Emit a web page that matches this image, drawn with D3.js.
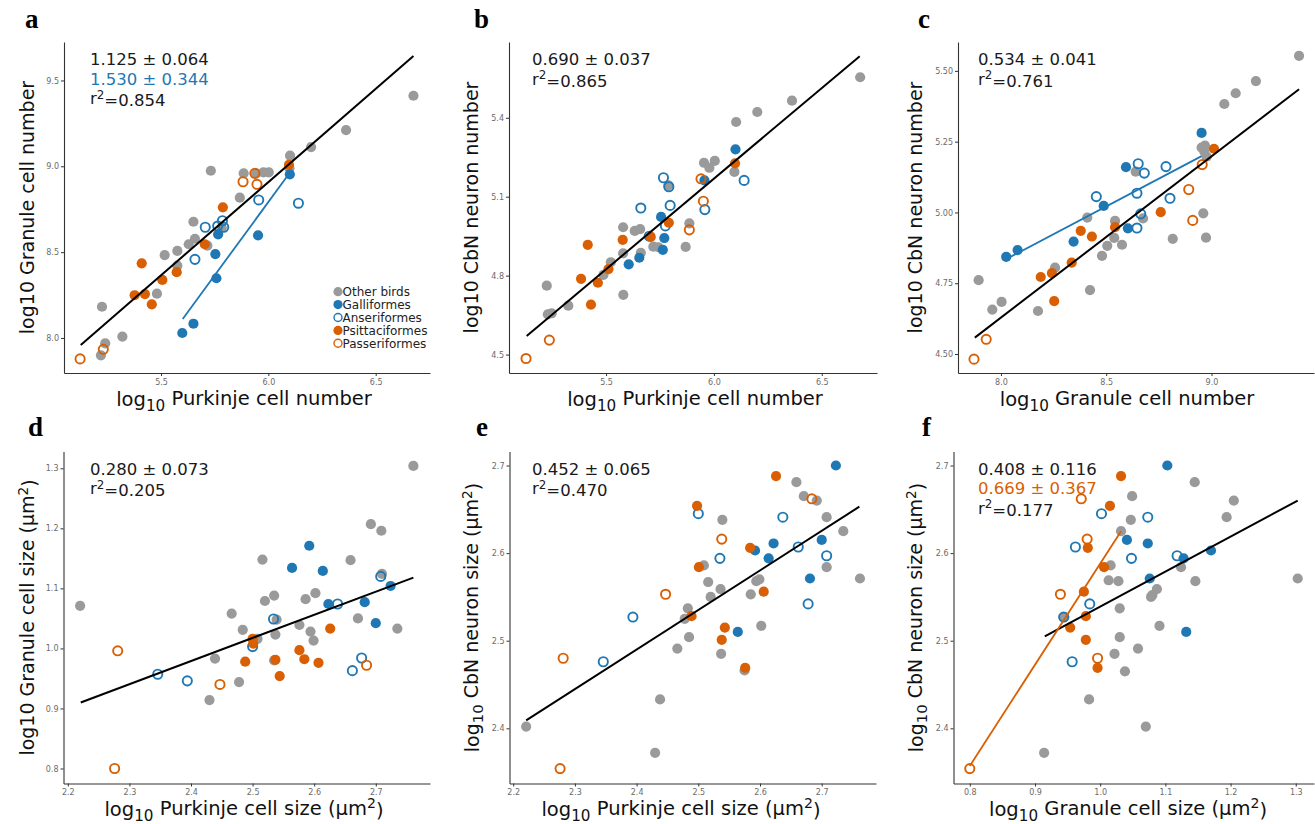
<!DOCTYPE html>
<html><head><meta charset="utf-8">
<script src="https://cdn.jsdelivr.net/npm/d3@7"></script>
<style>
body{margin:0;background:#fff;}
svg{display:block;font-family:"DejaVu Sans",Verdana,sans-serif;}
</style></head>
<body><svg id="chart" width="1315" height="824"></svg>
<script>
// ---------- DATA ----------
const groupNames = ["Other birds","Galliformes","Anseriformes","Psittaciformes","Passeriformes"];

// Panel a: log10 Purkinje cell number vs log10 Granule cell number
const a_other = [[6.676,9.411],[6.362,9.211],[6.199,9.112],[6.101,9.062],[6.098,8.988],[5.732,8.974],[5.885,8.959],[5.943,8.959],[5.977,8.965],[6.002,8.965],[5.867,8.817],[5.651,8.677],[5.658,8.578],[5.629,8.546],[5.716,8.538],[5.783,8.642],[5.576,8.507],[5.517,8.483],[5.576,8.421],[5.481,8.258],[5.225,8.182],[5.320,8.008],[5.240,7.969],[5.220,7.899]];
const a_galli = [[6.100,8.953],[5.766,8.604],[5.753,8.489],[5.952,8.598],[5.758,8.348],[5.651,8.083],[5.599,8.029]];
const a_anser = [[6.140,8.785],[5.955,8.804],[5.706,8.645],[5.764,8.652],[5.786,8.683],[5.792,8.645],[5.658,8.458]];
const a_psitt = [[6.096,9.009],[5.788,8.761],[5.704,8.546],[5.410,8.435],[5.573,8.383],[5.506,8.338],[5.377,8.249],[5.425,8.256],[5.457,8.196]];
const a_passer = [[5.937,8.959],[5.882,8.910],[5.947,8.895],[5.231,7.934],[5.123,7.878]];
const a_fitAll = [[5.126,7.959],[6.676,9.642]];
const a_fitGalli = [[5.601,8.111],[6.098,8.959]];

// Panel b: log10 Purkinje cell number vs log10 CbN neuron number
const b_other = [[6.678,5.554],[6.362,5.465],[6.201,5.422],[6.103,5.384],[5.954,5.229],[6.004,5.236],[5.979,5.210],[6.095,5.194],[5.789,5.143],[5.886,4.999],[5.869,4.909],[5.579,4.984],[5.633,4.970],[5.658,4.977],[5.661,4.887],[5.719,4.910],[5.742,4.908],[5.579,4.885],[5.522,4.851],[5.488,4.803],[5.580,4.727],[5.225,4.762],[5.325,4.686],[5.230,4.653],[5.248,4.657]];
const b_galli = [[6.100,5.280],[5.956,5.162],[5.755,5.023],[5.770,4.943],[5.763,4.898],[5.654,4.868],[5.605,4.843]];
const b_anser = [[6.140,5.162],[5.766,5.172],[5.791,5.138],[5.797,5.067],[5.661,5.057],[5.958,5.051],[5.775,4.989],[5.700,4.950]];
const b_psitt = [[6.098,5.227],[5.791,5.001],[5.707,4.947],[5.577,4.936],[5.415,4.917],[5.511,4.825],[5.462,4.773],[5.384,4.788],[5.430,4.690]];
const b_passer = [[5.940,5.168],[5.951,5.083],[5.886,4.974],[5.237,4.555],[5.129,4.485]];
const b_fitAll = [[5.132,4.571],[6.676,5.634]];

// Panel c: log10 Granule cell number vs log10 CbN neuron number
const c_other = [[9.416,5.553],[9.211,5.464],[9.115,5.421],[9.061,5.383],[8.953,5.229],[8.969,5.236],[8.977,5.197],[8.966,5.215],[8.640,5.144],[8.961,4.997],[8.974,4.911],[8.816,4.907],[8.675,4.979],[8.410,4.982],[8.542,4.970],[8.538,4.910],[8.575,4.886],[8.505,4.882],[8.480,4.847],[8.257,4.805],[8.423,4.726],[8.176,4.652],[7.894,4.761],[8.003,4.684],[7.959,4.657]];
const c_galli = [[8.953,5.281],[8.594,5.160],[8.488,5.023],[8.603,4.944],[8.345,4.897],[8.079,4.867],[8.025,4.843]];
const c_anser = [[8.652,5.172],[8.681,5.139],[8.784,5.162],[8.453,5.056],[8.646,5.068],[8.803,5.050],[8.664,4.995],[8.646,4.945]];
const c_psitt = [[9.012,5.225],[8.759,5.001],[8.542,4.948],[8.379,4.935],[8.432,4.915],[8.336,4.823],[8.189,4.772],[8.242,4.786],[8.253,4.687]];
const c_passer = [[8.956,5.169],[8.892,5.081],[8.911,4.972],[7.930,4.552],[7.872,4.482]];
const c_fitAll = [[7.876,4.558],[9.416,5.435]];
const c_fitGalli = [[8.029,4.837],[8.953,5.199]];

// Panel d: log10 Purkinje cell size vs log10 Granule cell size
const d_other = [[2.761,1.304],[2.692,1.207],[2.709,1.196],[2.516,1.148],[2.659,1.147],[2.710,1.124],[2.535,1.088],[2.602,1.092],[2.520,1.079],[2.586,1.082],[2.466,1.058],[2.671,1.050],[2.539,1.048],[2.576,1.039],[2.484,1.031],[2.594,1.028],[2.735,1.033],[2.537,1.023],[2.508,1.016],[2.599,1.013],[2.439,0.983],[2.535,0.980],[2.478,0.944],[2.430,0.914],[2.220,1.071]];
const d_galli = [[2.592,1.171],[2.564,1.134],[2.614,1.129],[2.623,1.074],[2.682,1.077],[2.724,1.104],[2.700,1.042]];
const d_anser = [[2.708,1.120],[2.638,1.074],[2.534,1.049],[2.500,1.003],[2.346,0.957],[2.394,0.946],[2.662,0.963],[2.677,0.984]];
const d_psitt = [[2.626,1.033],[2.500,1.016],[2.501,1.008],[2.576,0.997],[2.537,0.981],[2.584,0.982],[2.607,0.976],[2.488,0.978],[2.544,0.954]];
const d_passer = [[2.281,0.996],[2.447,0.940],[2.685,0.972],[2.276,0.800]];
const d_fitAll = [[2.221,0.910],[2.761,1.118]];

// Panel e: log10 Purkinje cell size vs log10 CbN neuron size
const e_other = [[2.221,2.402],[2.430,2.372],[2.438,2.433],[2.466,2.491],[2.485,2.504],[2.478,2.525],[2.483,2.537],[2.537,2.485],[2.575,2.466],[2.520,2.550],[2.536,2.559],[2.516,2.567],[2.509,2.586],[2.585,2.553],[2.594,2.568],[2.599,2.570],[2.602,2.517],[2.539,2.638],[2.659,2.681],[2.671,2.665],[2.692,2.660],[2.708,2.641],[2.708,2.584],[2.735,2.625],[2.762,2.571]];
const e_galli = [[2.723,2.700],[2.622,2.611],[2.592,2.603],[2.614,2.594],[2.700,2.615],[2.681,2.571],[2.564,2.510]];
const e_anser = [[2.500,2.645],[2.637,2.641],[2.662,2.607],[2.708,2.597],[2.535,2.594],[2.678,2.542],[2.394,2.527],[2.346,2.476]];
const e_psitt = [[2.626,2.688],[2.498,2.654],[2.584,2.606],[2.501,2.584],[2.606,2.556],[2.489,2.528],[2.543,2.515],[2.538,2.501],[2.576,2.469]];
const e_passer = [[2.684,2.662],[2.538,2.616],[2.447,2.553],[2.281,2.480],[2.276,2.354]];
const e_fitAll = [[2.221,2.409],[2.761,2.653]];

// Panel f: log10 Granule cell size vs log10 CbN neuron size
const f_other = [[1.303,2.571],[1.205,2.660],[1.194,2.641],[1.145,2.681],[1.146,2.568],[1.124,2.584],[1.049,2.665],[1.047,2.638],[1.032,2.625],[1.016,2.586],[1.013,2.569],[1.028,2.568],[1.087,2.559],[1.080,2.552],[1.078,2.550],[1.030,2.537],[1.091,2.517],[1.030,2.504],[1.058,2.491],[1.022,2.485],[1.038,2.465],[0.983,2.433],[1.070,2.402],[0.914,2.372],[0.945,2.527]];
const f_galli = [[1.103,2.700],[1.041,2.615],[1.073,2.611],[1.128,2.594],[1.170,2.603],[1.076,2.571],[1.132,2.510]];
const f_anser = [[1.002,2.645],[1.073,2.641],[0.962,2.607],[1.048,2.594],[1.118,2.597],[0.984,2.542],[0.944,2.527],[0.957,2.476]];
const f_psitt = [[1.032,2.688],[1.015,2.654],[0.981,2.606],[1.006,2.584],[0.975,2.556],[0.978,2.528],[0.954,2.515],[0.978,2.501],[0.996,2.469]];
const f_passer = [[0.971,2.662],[0.980,2.616],[0.939,2.553],[0.996,2.480],[0.800,2.354]];
const f_fitAll = [[0.915,2.505],[1.303,2.660]];
const f_fitPsitt = [[0.800,2.357],[1.032,2.625]];

// Tick labels
const xTicksNumber = ["5.5","6.0","6.5"];
const xTicksGranNum = ["8.0","8.5","9.0"];
const yTicksA = ["8.0","8.5","9.0","9.5"];
const yTicksB = ["4.5","4.8","5.1","5.4"];
const yTicksC = ["4.50","4.75","5.00","5.25","5.50"];
const xTicksPurkSize = ["2.2","2.3","2.4","2.5","2.6","2.7"];
const yTicksD = ["0.8","0.9","1.0","1.1","1.2","1.3"];
const yTicksCbnSize = ["2.4","2.5","2.6","2.7"];
const xTicksGranSize = ["0.8","0.9","1.0","1.1","1.2","1.3"];

// Annotations (slope ± se, r2)
const annA = ["1.125 ± 0.064","1.530 ± 0.344","0.854"];
const annB = ["0.690 ± 0.037","0.865"];
const annC = ["0.534 ± 0.041","0.761"];
const annD = ["0.280 ± 0.073","0.205"];
const annE = ["0.452 ± 0.065","0.470"];
const annF = ["0.408 ± 0.116","0.669 ± 0.367","0.177"];

// ---------- STYLE / LAYOUT ----------
const GRAY="#9a9a9a", BLUE="#1f78b4", ORANGE="#d95f02";
const groupStyle = [
  {fill:GRAY, stroke:"none"},
  {fill:BLUE, stroke:"none"},
  {fill:"none", stroke:BLUE},
  {fill:ORANGE, stroke:"none"},
  {fill:"none", stroke:ORANGE}
];

const svg = d3.select("#chart");
svg.append("rect").attr("width",1315).attr("height",824).attr("fill","#fff");

const panels = [
  {letter:"a", lx:25, ly:28, x0:64, x1:430, y0:373, y1:42, xd:[5.048,6.753], yd:[7.796,9.724],
   groups:[a_other,a_galli,a_anser,a_psitt,a_passer],
   fits:[[a_fitAll,"#000"],[a_fitGalli,BLUE]], xt:xTicksNumber, yt:yTicksA,
   ann:[[annA[0],"#1a1a1a"],[annA[1],BLUE]], r2:annA[2], ax:90,
   xtitle:["log","10"," Purkinje cell number",""], xtc:244, xtb:406,
   ytitle:["log10 Granule cell number"], ytx:34, legend:true},
  {letter:"b", lx:474, ly:28, x0:509, x1:877, y0:373, y1:42, xd:[5.050,6.756], yd:[4.430,5.688],
   groups:[b_other,b_galli,b_anser,b_psitt,b_passer],
   fits:[[b_fitAll,"#000"]], xt:xTicksNumber, yt:yTicksB,
   ann:[[annB[0],"#1a1a1a"]], r2:annB[1], ax:532,
   xtitle:["log","10"," Purkinje cell number",""], xtc:695, xtb:406,
   ytitle:["log10 CbN neuron number"], ytx:478},
  {letter:"c", lx:918, ly:28, x0:958, x1:1314, y0:373, y1:42, xd:[7.796,9.487], yd:[4.433,5.602],
   groups:[c_other,c_galli,c_anser,c_psitt,c_passer],
   fits:[[c_fitAll,"#000"],[c_fitGalli,BLUE]], xt:xTicksGranNum, yt:yTicksC,
   ann:[[annC[0],"#1a1a1a"]], r2:annC[1], ax:978,
   xtitle:["log","10"," Granule cell number",""], xtc:1127, xtb:406,
   ytitle:["log10 CbN neuron number"], ytx:922},
  {letter:"d", lx:28, ly:436, x0:63.5, x1:430, y0:783.5, y1:451.5, xd:[2.193,2.788], yd:[0.775,1.328],
   groups:[d_other,d_galli,d_anser,d_psitt,d_passer],
   fits:[[d_fitAll,"#000"]], xt:xTicksPurkSize, yt:yTicksD,
   ann:[[annD[0],"#1a1a1a"]], r2:annD[1], ax:90,
   xtitle:["log","10"," Purkinje cell size (µm","2",")"], xtc:244, xtb:816,
   ytitle:["log10 Granule cell size (µm","2",")"], ytx:34},
  {letter:"e", lx:476, ly:436, x0:509.5, x1:876, y0:783.5, y1:451.5, xd:[2.194,2.788], yd:[2.337,2.716],
   groups:[e_other,e_galli,e_anser,e_psitt,e_passer],
   fits:[[e_fitAll,"#000"]], xt:xTicksPurkSize, yt:yTicksCbnSize,
   ann:[[annE[0],"#1a1a1a"]], r2:annE[1], ax:532,
   xtitle:["log","10"," Purkinje cell size (µm","2",")"], xtc:681, xtb:816,
   ytitle:["log","10"," CbN neuron size (µm","2",")"], ytx:479, ysub:true},
  {letter:"f", lx:922, ly:436, x0:953.5, x1:1314, y0:783.5, y1:451.5, xd:[0.775,1.328], yd:[2.337,2.716],
   groups:[f_other,f_galli,f_anser,f_psitt,f_passer],
   fits:[[f_fitAll,"#000"],[f_fitPsitt,ORANGE]], xt:xTicksGranSize, yt:yTicksCbnSize,
   ann:[[annF[0],"#1a1a1a"],[annF[1],ORANGE]], r2:annF[2], ax:978,
   xtitle:["log","10"," Granule cell size (µm","2",")"], xtc:1128, xtb:816,
   ytitle:["log","10"," CbN neuron size (µm","2",")"], ytx:923, ysub:true}
];

function titleText(sel, parts){
  if(parts.length===1){ sel.text(parts[0]); return; }
  if(parts.length===3){
    sel.append("tspan").text(parts[0]);
    sel.append("tspan").attr("dy","-0.45em").attr("font-size","0.72em").text(parts[1]);
    sel.append("tspan").attr("dy","0.45em").text(parts[2]);
    return;
  }
  sel.append("tspan").text(parts[0]);
  sel.append("tspan").attr("dy","0.3em").attr("font-size","0.78em").text(parts[1]);
  sel.append("tspan").attr("dy","-0.3em").text(parts[2]);
  if(parts.length>=5 && parts[3]){
    sel.append("tspan").attr("dy","-0.45em").attr("font-size","0.72em").text(parts[3]);
    sel.append("tspan").attr("dy","0.45em").text(parts[4]);
  }
}

panels.forEach(p=>{
  const x = d3.scaleLinear().domain(p.xd).range([p.x0,p.x1]);
  const y = d3.scaleLinear().domain(p.yd).range([p.y0,p.y1]);
  const g = svg.append("g");

  const xa = g.append("g").attr("transform",`translate(0,${p.y0})`)
    .call(d3.axisBottom(x).tickValues(p.xt.map(Number)).tickFormat((d,i)=>p.xt[i]).tickSize(3).tickSizeOuter(0).tickPadding(3));
  const ya = g.append("g").attr("transform",`translate(${p.x0},0)`)
    .call(d3.axisLeft(y).tickValues(p.yt.map(Number)).tickFormat((d,i)=>p.yt[i]).tickSize(3).tickSizeOuter(0).tickPadding(2));
  [xa,ya].forEach(a=>{
    a.select(".domain").attr("stroke","#333").attr("stroke-width",1.1);
    a.selectAll(".tick line").attr("stroke","#333");
    a.selectAll(".tick text").attr("fill","#6b6b6b").attr("font-size","8px")
      .attr("font-family","'DejaVu Sans',Verdana,sans-serif");
  });

  p.groups.forEach((arr,gi)=>{
    const st = groupStyle[gi];
    const open = st.fill==="none";
    g.append("g").selectAll("circle").data(arr).join("circle")
      .attr("cx",d=>x(d[0])).attr("cy",d=>y(d[1]))
      .attr("r", open?4.6:5.1)
      .attr("fill",st.fill).attr("stroke",st.stroke).attr("stroke-width",open?1.9:0);
  });

  p.fits.forEach(([pts,col])=>{
    g.append("path").datum(pts)
      .attr("d",d3.line().x(d=>x(d[0])).y(d=>y(d[1])))
      .attr("stroke",col).attr("stroke-width",col==="#000"?2:1.8).attr("fill","none");
  });

  const baseY = p.y1 + 23;
  p.ann.forEach(([t,c],i)=>{
    g.append("text").attr("x",p.ax).attr("y",baseY + i*19.5)
      .attr("font-size","16.5px").attr("fill",c).text(t);
  });
  const r2t = g.append("text").attr("x",p.ax).attr("y",baseY + p.ann.length*19.5)
    .attr("font-size","16.5px").attr("fill","#1a1a1a");
  r2t.append("tspan").text("r");
  r2t.append("tspan").attr("dy","-0.45em").attr("font-size","0.72em").text("2");
  r2t.append("tspan").attr("dy","0.45em").text("=" + p.r2);

  svg.append("text").attr("x",p.lx).attr("y",p.ly).attr("font-family","'Liberation Serif','Times New Roman',serif")
    .attr("font-weight","bold").attr("font-size","27px").attr("fill","#000").text(p.letter);

  const xt = svg.append("text").attr("x",p.xtc).attr("y",p.xtb).attr("text-anchor","middle")
    .attr("font-size","19.5px").attr("fill","#111");
  titleText(xt, p.xtitle);

  const cy = (p.y0+p.y1)/2;
  const yt = svg.append("text").attr("transform",`translate(${p.ytx},${cy}) rotate(-90)`)
    .attr("text-anchor","middle").attr("font-size","19px").attr("fill","#111");
  titleText(yt, p.ytitle);

  if(p.legend){
    const lg = svg.append("g");
    groupNames.forEach((n,i)=>{
      const st = groupStyle[i];
      const open = st.fill==="none";
      const yy = 291.7 + i*12.9;
      lg.append("circle").attr("cx",338).attr("cy",yy).attr("r",open?4:4.6)
        .attr("fill",st.fill).attr("stroke",st.stroke).attr("stroke-width",open?1.4:0);
      lg.append("text").attr("x",342.5).attr("y",yy+4.3).attr("font-size","12px").attr("fill","#222").text(n);
    });
  }
});
</script></body></html>
